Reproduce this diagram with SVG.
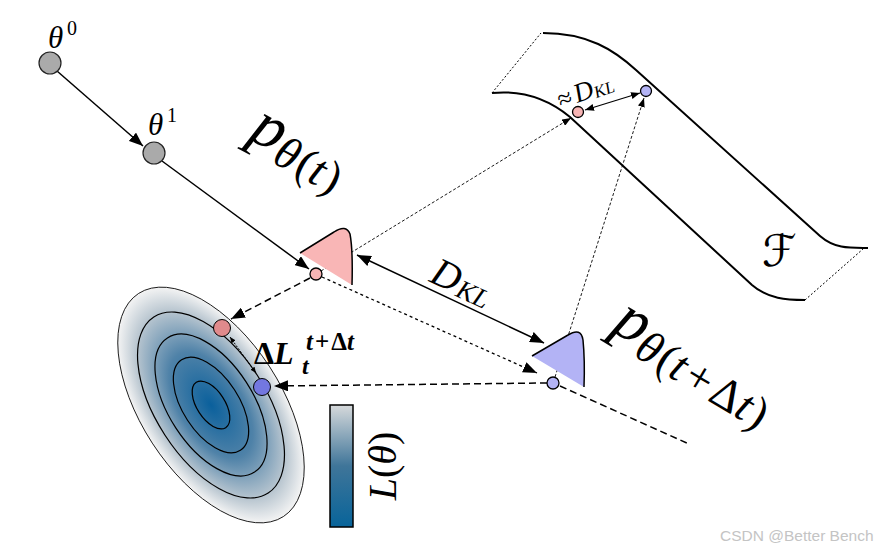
<svg xmlns="http://www.w3.org/2000/svg" width="879" height="554" viewBox="0 0 879 554">
<style>
  .math { font-family: "Liberation Serif", "DejaVu Serif", serif; font-style: italic; fill: #000; }
  .rm { font-family: "Liberation Serif", "DejaVu Serif", serif; fill: #000; }
  .solid { fill: none; stroke: #000; stroke-width: 1.5; }
  .dash { fill: none; stroke: #000; stroke-width: 1.5; stroke-dasharray: 7 4; }
  .dot { fill: none; stroke: #000; stroke-width: 1.3; stroke-dasharray: 3 3; }
  .fine { fill: none; stroke: #000; stroke-width: 0.9; stroke-dasharray: 3 2; }
  .contour { fill: none; stroke: #000; stroke-width: 1.2; }
  .mf { fill: none; stroke: #000; stroke-width: 2; }
  .mfdot { fill: none; stroke: #000; stroke-width: 1; stroke-dasharray: 2 2; }
  .gnode { fill: #aaaaaa; stroke: #222; stroke-width: 1.2; }
  .pink { fill: #f7b4b4; stroke: #000; stroke-width: 1.3; }
  .blue { fill: #b3b3f5; stroke: #000; stroke-width: 1.3; }
</style>
<defs>
  <marker id="ah" viewBox="0 0 14 11" refX="14" refY="5.5" markerWidth="14" markerHeight="11" markerUnits="userSpaceOnUse" orient="auto-start-reverse">
    <path d="M0,0 L14,5.5 L0,11 z" fill="#000" stroke="none"/>
  </marker>
  <marker id="ahs" viewBox="0 0 9 7" refX="9" refY="3.5" markerWidth="9" markerHeight="7" markerUnits="userSpaceOnUse" orient="auto-start-reverse">
    <path d="M0,0 L9,3.5 L0,7 z" fill="#000" stroke="none"/>
  </marker>
  <marker id="aht" viewBox="0 0 6 5" refX="6" refY="2.5" markerWidth="6" markerHeight="5" markerUnits="userSpaceOnUse" orient="auto-start-reverse">
    <path d="M0,0 L6,2.5 L0,5 z" fill="#000" stroke="none"/>
  </marker>
  <radialGradient id="lossGrad" cx="0.5" cy="0.5" r="0.5">
    <stop offset="0" stop-color="#0a609c"/>
    <stop offset="0.45" stop-color="#4f82a8"/>
    <stop offset="0.8" stop-color="#b9c6d0"/>
    <stop offset="1" stop-color="#f4f4f4"/>
  </radialGradient>
  <linearGradient id="barGrad" x1="0" y1="0" x2="0" y2="1">
    <stop offset="0" stop-color="#d6d9db"/>
    <stop offset="0.5" stop-color="#3f7599"/>
    <stop offset="1" stop-color="#08649a"/>
  </linearGradient>
</defs>

<!-- Loss landscape -->
<g id="loss-landscape" transform="translate(211,405) rotate(-33)">
  <ellipse cx="0" cy="0" rx="70" ry="133" fill="url(#lossGrad)" stroke="#000" stroke-width="0.8"/>
  <ellipse class="contour" cx="0" cy="0" rx="55" ry="105"/>
  <ellipse class="contour" cx="0" cy="0" rx="42" ry="80"/>
  <ellipse class="contour" cx="0" cy="0" rx="28" ry="54"/>
  <ellipse class="contour" cx="0" cy="0" rx="14" ry="27"/>
</g>

<!-- Colorbar -->
<g id="colorbar">
  <rect x="330" y="405" width="23" height="122" fill="url(#barGrad)" stroke="#000" stroke-width="1.5"/>
  <text class="math" font-size="40" transform="translate(396,466) rotate(-90)" text-anchor="middle">L<tspan font-style="normal">(</tspan>θ<tspan font-style="normal">)</tspan></text>
</g>

<!-- Manifold F -->
<g id="manifold">
  <path class="mf" d="M543,33 C588,33 614,50 636,70 L820,236 C835,249 850,248 868,248"/>
  <path class="mf" d="M492,93 C522,90 547,98 570,117 L752,285 C768,299 787,300 805,300"/>
  <path class="mfdot" d="M492,93 L541,33"/>
  <path class="mfdot" d="M805,300 L863,249"/>
  <text font-family="'DejaVu Serif', 'DejaVu Sans', serif" font-size="44" x="762" y="266">ℱ</text>
</g>

<!-- Connectors -->
<g id="connectors">
  <line class="solid" x1="57" y1="71" x2="143" y2="146" marker-end="url(#ah)"/>
  <line class="solid" x1="162" y1="161" x2="309" y2="269" marker-end="url(#ah)"/>
  <line class="solid" x1="357" y1="255" x2="544" y2="343" marker-start="url(#ah)" marker-end="url(#ah)"/>
  <line class="dot" x1="322" y1="277" x2="537" y2="373" marker-end="url(#ah)"/>
  <line class="dash" x1="560" y1="386" x2="689" y2="444"/>
  <line class="dash" x1="310" y1="278" x2="231" y2="319" marker-end="url(#ah)"/>
  <line class="dash" x1="547" y1="383" x2="274" y2="386" marker-end="url(#ah)"/>
  <line class="fine" x1="321" y1="271" x2="571" y2="118" marker-end="url(#ahs)"/>
  <line class="fine" x1="555" y1="377" x2="644" y2="98" marker-end="url(#ahs)"/>
  <line stroke="#000" stroke-width="1.2" x1="585" y1="110" x2="640" y2="93" marker-start="url(#ahs)" marker-end="url(#ahs)"/>
  <line stroke="#000" stroke-width="1" stroke-dasharray="2 1.5" x1="230" y1="337" x2="256" y2="373" marker-start="url(#aht)" marker-end="url(#aht)"/>
</g>

<!-- Distribution bells -->
<g id="p-theta-t">
  <path d="M300,253 L334,232 Q346,224 350,234 Q353,250 352,285 Z" fill="#f9b6b6" stroke="none"/>
  <path d="M300,253 L334,232 Q346,224 350,234 Q353,250 352,285" class="solid"/>
  <text class="math" transform="translate(247,138) rotate(28)"><tspan font-size="64">p</tspan><tspan font-size="46" dy="10">θ<tspan font-style="normal" dx="2">(</tspan>t<tspan font-style="normal" dx="2">)</tspan></tspan></text>
</g>
<g id="p-theta-t-dt">
  <path d="M532,356 L568,335 Q581,327 583,340 Q585,360 584,387 Z" fill="#b3b3f5" stroke="none"/>
  <path d="M532,356 L568,335 Q581,327 583,340 Q585,360 584,387" class="solid"/>
  <text class="math" transform="translate(610,330) rotate(31)"><tspan font-size="64">p</tspan><tspan font-size="46" dy="10">θ<tspan font-style="normal" dx="2">(</tspan>t<tspan font-style="normal" dx="4">+</tspan><tspan font-style="normal" dx="4">Δ</tspan>t<tspan font-style="normal" dx="2">)</tspan></tspan></text>
</g>

<!-- Nodes -->
<g id="theta0">
  <circle class="gnode" cx="50" cy="63" r="11"/>
  <text class="math" font-size="31" x="48" y="48">θ</text>
  <text class="rm" font-size="20" x="67" y="35">0</text>
</g>
<g id="theta1">
  <circle class="gnode" cx="154" cy="153" r="11"/>
  <text class="math" font-size="31" x="148" y="135">θ</text>
  <text class="rm" font-size="20" x="167" y="122">1</text>
</g>
<g id="pt-point">
  <circle class="pink" cx="316" cy="274" r="6"/>
</g>
<g id="ptdt-point">
  <circle class="blue" cx="553" cy="383" r="6"/>
</g>
<g id="manifold-pt">
  <circle class="pink" cx="578" cy="112" r="5.5"/>
</g>
<g id="manifold-ptdt">
  <circle class="blue" cx="646" cy="91" r="5.5"/>
</g>
<g id="loss-pt">
  <circle cx="222" cy="328" r="8.5" fill="#e08a8c" stroke="#000" stroke-width="1"/>
</g>
<g id="loss-ptdt">
  <circle cx="262" cy="387" r="8.5" fill="#7377e0" stroke="#000" stroke-width="1"/>
</g>

<!-- Labels -->
<g id="dkl-label">
  <text class="math" transform="translate(428,281) rotate(25)"><tspan font-size="40">D</tspan><tspan font-size="27" dy="2" dx="1">KL</tspan></text>
</g>
<g id="approx-dkl-label">
  <text class="math" transform="translate(561,109) rotate(-20)"><tspan font-style="normal" font-size="26">≈</tspan><tspan font-size="27" dx="3">D</tspan><tspan font-size="17" dy="2">KL</tspan></text>
</g>
<g id="delta-l-label">
  <text class="rm" font-weight="bold" font-size="32" x="254" y="364">Δ<tspan font-style="italic">L</tspan></text>
  <text class="math" font-weight="bold" font-size="25" x="306" y="350">t<tspan font-style="normal" dx="2">+</tspan><tspan font-style="normal" dx="2">Δ</tspan>t</text>
  <text class="math" font-weight="bold" font-size="24" x="302" y="374">t</text>
</g>

<text x="720" y="541" font-family="'Liberation Sans', Arial, sans-serif" font-size="15.5" fill="#c4c4c4">CSDN @Better Bench</text>
</svg>
